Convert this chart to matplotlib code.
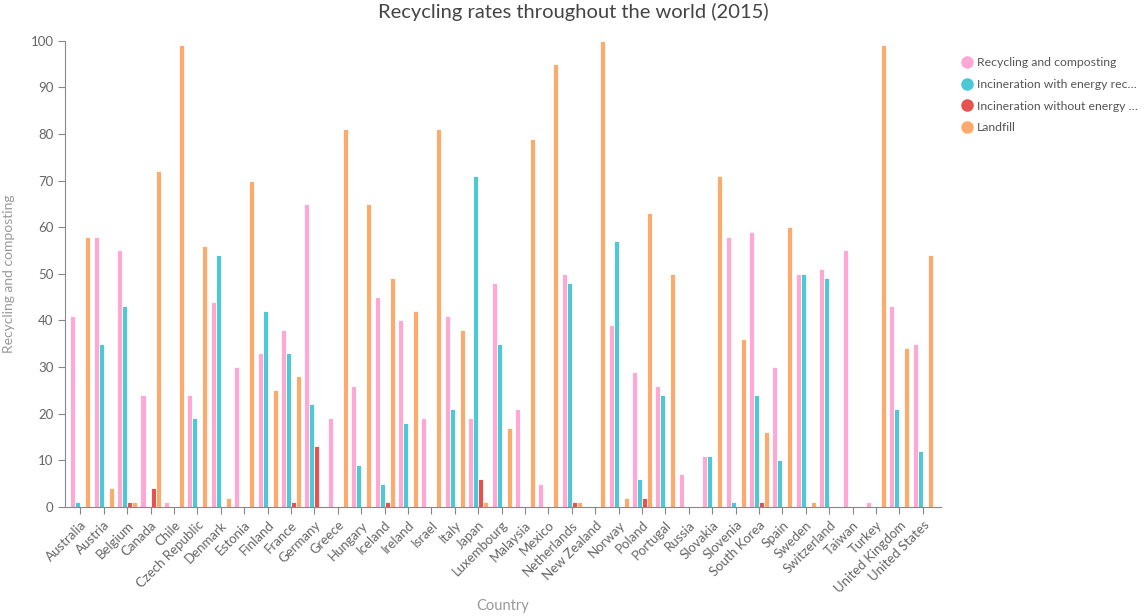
import matplotlib
matplotlib.use("Agg")
import matplotlib.pyplot as plt
from matplotlib.lines import Line2D
import numpy as np

countries = ["Australia", "Austria", "Belgium", "Canada", "Chile", "Czech Republic", "Denmark",
             "Estonia", "Finland", "France", "Germany", "Greece", "Hungary", "Iceland", "Ireland",
             "Israel", "Italy", "Japan", "Luxembourg", "Malaysia", "Mexico", "Netherlands",
             "New Zealand", "Norway", "Poland", "Portugal", "Russia", "Slovakia", "Slovenia",
             "South Korea", "Spain", "Sweden", "Switzerland", "Taiwan", "Turkey",
             "United Kingdom", "United States"]
recycling = [41, 58, 55, 24, 1, 24, 44, 30, 33, 38, 65, 19, 26, 45, 40, 19, 41, 19, 48, 21, 5, 50,
             0, 39, 29, 26, 7, 11, 58, 59, 30, 50, 51, 55, 1, 43, 35]
incin_energy = [1, 35, 43, 0, 0, 19, 54, 0, 42, 33, 22, 0, 9, 5, 18, 0, 21, 71, 35, 0, 0, 48,
                0, 57, 6, 24, 0, 11, 1, 24, 10, 50, 49, 0, 0, 21, 12]
incin_no_energy = [0, 0, 1, 4, 0, 0, 0, 0, 0, 1, 13, 0, 0, 1, 0, 0, 0, 6, 0, 0, 0, 1,
                   0, 0, 2, 0, 0, 0, 0, 1, 0, 0, 0, 0, 0, 0, 0]
landfill = [58, 4, 1, 72, 99, 56, 2, 70, 25, 28, 0, 81, 65, 49, 42, 81, 38, 1, 17, 79, 95, 1,
            100, 2, 63, 50, 0, 71, 36, 16, 60, 1, 0, 0, 99, 34, 54]

series_names = ["Recycling and composting", "Incineration with energy rec\u2026",
                "Incineration without energy \u2026", "Landfill"]
colors = ["#FFA8D3", "#4CC8D6", "#E5524F", "#FDAA6C"]

plt.rcParams['font.family'] = ['Lato', 'DejaVu Sans']
txt = "#666666"

fig = plt.figure(figsize=(11.46, 6.16), dpi=100)
ax = fig.add_axes([0.057, 0.177, 0.764, 0.757])

x = np.arange(len(countries))
w = 0.214
data = [recycling, incin_energy, incin_no_energy, landfill]
for i, (vals, c) in enumerate(zip(data, colors)):
    ax.bar(x + (i - 1.5) * w, vals, width=w, color=c, edgecolor="white", linewidth=0.6, zorder=2)

ax.set_xlim(-0.64, 36.77)
ax.set_ylim(0, 100)
ax.set_yticks(range(0, 101, 10))
ax.set_xticks(x)
ax.set_xticklabels(countries, rotation=45, ha="right", rotation_mode="anchor", fontsize=9.5, color=txt)
ax.tick_params(axis="y", labelsize=9.5, labelcolor=txt, color="#888888", length=5)
ax.tick_params(axis="x", color="#888888", length=5)
for s in ["top", "right"]:
    ax.spines[s].set_visible(False)
for s in ["left", "bottom"]:
    ax.spines[s].set_color("#888888")

ax.set_ylabel("Recycling and composting", fontsize=10, color="#999999")
ax.yaxis.set_label_coords(-0.057, 0.5)
ax.set_xlabel("Country", fontsize=10.5, color="#999999")
ax.xaxis.set_label_coords(0.5, -0.198)
fig.suptitle("Recycling rates throughout the world (2015)", fontsize=14.5, color="#444444", y=0.995)

handles = [Line2D([0], [0], marker="o", linestyle="", markersize=8, markerfacecolor=c,
                  markeredgecolor=c) for c in colors]
leg = fig.legend(handles, series_names, loc="upper left", bbox_to_anchor=(0.828, 0.925),
                 frameon=False, fontsize=8.8, handletextpad=0.2, labelspacing=0.88,
                 handlelength=1.2)
for t in leg.get_texts():
    t.set_color("#555555")

fig.savefig("out.png", dpi=100)
